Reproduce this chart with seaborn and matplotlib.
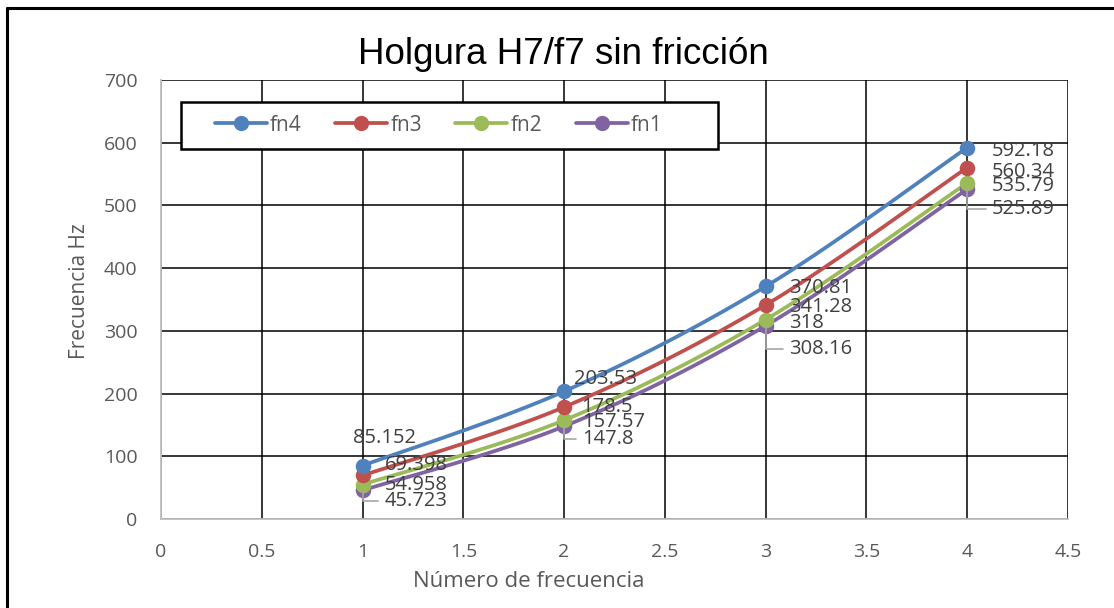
import numpy as np
import pandas as pd
import matplotlib
matplotlib.use("Agg")
import matplotlib.pyplot as plt
from matplotlib.lines import Line2D
from matplotlib.patches import Rectangle
import seaborn as sns

# Natural frequencies (Hz) per mode number
mode_number = [1, 2, 3, 4]
fn4 = [85.152, 203.53, 370.81, 592.18]
fn3 = [69.398, 178.5, 341.28, 560.34]
fn2 = [54.958, 157.57, 318, 535.79]
fn1 = [45.723, 147.8, 308.16, 525.89]

series_names = ["fn4", "fn3", "fn2", "fn1"]
series_values = [fn4, fn3, fn2, fn1]
palette = {"fn4": "#4F81BD", "fn3": "#C0504D", "fn2": "#9BBB59", "fn1": "#8064A2"}

x_ticks = [0, 0.5, 1, 1.5, 2, 2.5, 3, 3.5, 4, 4.5]
y_ticks = [0, 100, 200, 300, 400, 500, 600, 700]

# label offsets in pixels (dx, dy) and whether a leader line is drawn
label_offsets = {
    "fn4": [(-10, 28, False), (10, 12, False), (23, -2, False), (25, -3, False)],
    "fn3": [(22, 10, False), (17, 0, False), (23, -2, False), (25, -4, False)],
    "fn2": [(22, 0, False), (18, -2, False), (23, -3, False), (25, -3, False)],
    "fn1": [(22, -11, True), (18, -13, True), (23, -23, True), (25, -20, True)],
}

TEXT_GREY = "#595959"
LABEL_GREY = "#404040"


def smooth_curve(xs, ys, n=40):
    """Bezier path through the points (Catmull-Rom style control points)."""
    pts = np.column_stack([xs, ys]).astype(float)
    out = []
    m = len(pts)
    for i in range(m - 1):
        p0 = pts[i - 1] if i > 0 else pts[i]
        p1 = pts[i]
        p2 = pts[i + 1]
        p3 = pts[i + 2] if i + 2 < m else pts[i + 1]
        c1 = p1 + (p2 - p0) / 6.0
        c2 = p2 - (p3 - p1) / 6.0
        t = np.linspace(0, 1, n)[:, None]
        seg = ((1 - t) ** 3) * p1 + 3 * ((1 - t) ** 2) * t * c1 + 3 * (1 - t) * t ** 2 * c2 + t ** 3 * p2
        out.append(seg if i == 0 else seg[1:])
    return np.vstack(out)


sns.set_theme(style="white")
plt.rcParams["font.family"] = ["Open Sans", "DejaVu Sans"]

fig = plt.figure(figsize=(11.14, 6.08), dpi=100)
ax = fig.add_axes([0.1445, 0.1464, 0.8142, 0.7220])

curve_frames = []
point_frames = []
for name, vals in zip(series_names, series_values):
    c = smooth_curve(mode_number, vals)
    curve_frames.append(pd.DataFrame({"x": c[:, 0], "y": c[:, 1], "serie": name}))
    point_frames.append(pd.DataFrame({"x": mode_number, "y": vals, "serie": name}))
curves = pd.concat(curve_frames, ignore_index=True)
points = pd.concat(point_frames, ignore_index=True)

# draw fn1 first so fn4 sits on top
draw_order = ["fn1", "fn2", "fn3", "fn4"]
for name in draw_order:
    sub = curves[curves["serie"] == name]
    sns.lineplot(data=sub, x="x", y="y", sort=False, estimator=None, color=palette[name],
                 linewidth=2.7, ax=ax, legend=False, zorder=3)
for name in draw_order:
    sub = points[points["serie"] == name]
    sns.scatterplot(data=sub, x="x", y="y", color=palette[name], s=125, edgecolor=palette[name],
                    linewidth=0, ax=ax, legend=False, zorder=4)

# data labels
for name, vals in zip(series_names, series_values):
    for xi, yi, (dx, dy, leader) in zip(mode_number, vals, label_offsets[name]):
        txt = f"{yi:g}"
        kw = dict(xy=(xi, yi), xytext=(dx, dy), textcoords="offset pixels",
                  ha="left", va="center", fontsize=14.5, color=LABEL_GREY, zorder=5)
        if leader:
            kw["arrowprops"] = dict(arrowstyle="-", color="#A6A6A6", lw=1.2,
                                    shrinkA=2, shrinkB=0,
                                    connectionstyle="angle,angleA=0,angleB=90,rad=0")
        ax.annotate(txt, **kw)

ax.set_xlim(0, 4.5)
ax.set_ylim(0, 700)
ax.set_xticks(x_ticks)
ax.set_xticklabels([f"{v:g}" for v in x_ticks])
ax.set_yticks(y_ticks)
ax.set_yticklabels([str(v) for v in y_ticks])
ax.tick_params(axis="both", length=0, labelsize=14, labelcolor=TEXT_GREY)
ax.tick_params(axis="x", pad=17)
ax.tick_params(axis="y", pad=17)
ax.grid(True, color="black", linewidth=1.1)
ax.set_axisbelow(True)
for side in ["top", "right"]:
    ax.spines[side].set_visible(False)
for side in ["left", "bottom"]:
    ax.spines[side].set_color("#BFBFBF")
    ax.spines[side].set_linewidth(1.3)
    ax.spines[side].set_zorder(2.5)

ax.set_xlabel("Número de frecuencia", fontsize=16, color=TEXT_GREY, labelpad=4)
ax.xaxis.set_label_coords(0.406, -0.118)
ax.set_ylabel("Frecuencia Hz", fontsize=15, color=TEXT_GREY)
ax.yaxis.set_label_coords(-0.078, 0.519)

fig.text(0.506, 0.91, "Holgura H7/f7 sin fricción", ha="center", va="center",
         fontsize=26.5, color="black", family="Liberation Sans")

# legend: framed box with the four entries in one row
ax.add_patch(Rectangle((0.0221, 0.8428), 0.592, 0.1071, transform=ax.transAxes,
                       facecolor="white", edgecolor="black", linewidth=1.8, zorder=6,
                       clip_on=False))
handles = [Line2D([0], [0], color=palette[n], lw=2.7, marker="o", markersize=11,
                  markeredgewidth=0) for n in series_names]
leg = ax.legend(handles, series_names, loc="center left", bbox_to_anchor=(0.0595, 0.8975),
                ncol=4, frameon=False, fontsize=15, handlelength=2.5,
                columnspacing=1.6, handletextpad=0.15, borderpad=0, borderaxespad=0,
                labelcolor=TEXT_GREY)
leg.set_zorder(7)

# chart border
fig.add_artist(plt.Line2D([0.006, 0.006], [0.0, 0.987], color="black", lw=2.2, transform=fig.transFigure))
fig.add_artist(plt.Line2D([0.006, 1.0], [0.987, 0.987], color="black", lw=2.2, transform=fig.transFigure))

fig.savefig("out.png", dpi=100, facecolor="white")
